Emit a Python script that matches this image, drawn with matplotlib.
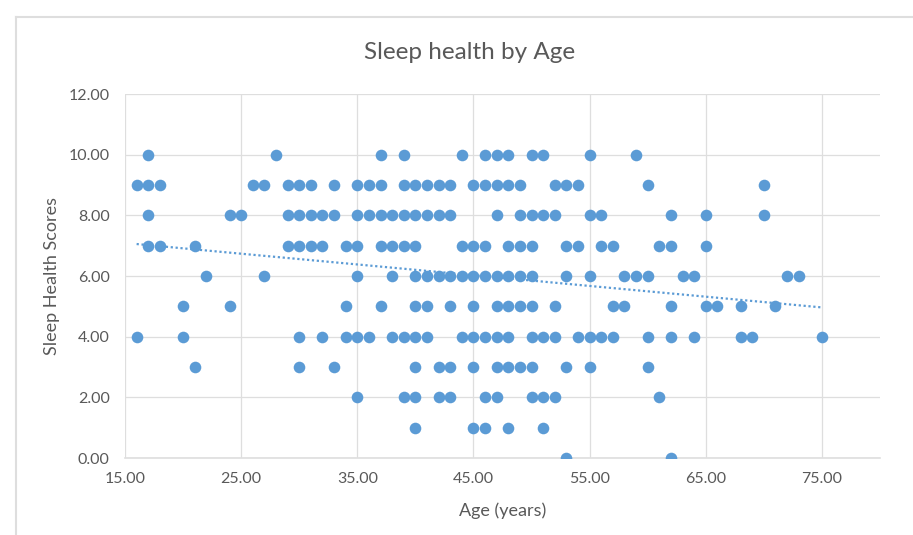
import matplotlib.pyplot as plt
import numpy as np
from matplotlib.lines import Line2D

# ==========================================
# 1. Data (age in years per sleep health score)
# ==========================================
score_levels = [10, 9, 8, 7, 6, 5, 4, 3, 2, 1, 0]

ages_10 = [17, 28, 37, 39, 44, 46, 47, 48, 50, 51, 55, 59]
ages_9 = [16, 17, 18, 26, 27, 29, 30, 31, 33, 35, 36, 37, 39, 40, 41, 42, 43,
          45, 46, 47, 48, 49, 52, 53, 54, 60, 70]
ages_8 = [17, 24, 25, 29, 30, 31, 32, 33, 35, 36, 37, 38, 39, 40, 41, 42, 43,
          47, 49, 50, 51, 52, 55, 56, 62, 65, 70]
ages_7 = [17, 18, 21, 29, 30, 31, 32, 34, 35, 37, 38, 39, 40, 44, 45, 46, 48,
          49, 50, 53, 54, 56, 57, 61, 62, 65]
ages_6 = [22, 27, 35, 38, 40, 41, 42, 43, 44, 45, 46, 47, 48, 49, 50, 53, 55,
          58, 59, 60, 63, 64, 72, 73]
ages_5 = [20, 24, 34, 37, 40, 41, 43, 45, 47, 48, 49, 50, 52, 57, 58, 62, 65,
          66, 68, 71]
ages_4 = [16, 20, 30, 32, 34, 35, 36, 38, 39, 40, 41, 44, 45, 46, 47, 48, 50,
          51, 52, 54, 55, 56, 57, 60, 62, 64, 68, 69, 75]
ages_3 = [21, 30, 33, 40, 42, 43, 45, 47, 48, 49, 50, 53, 55, 60]
ages_2 = [35, 39, 40, 42, 43, 46, 47, 50, 51, 52, 61]
ages_1 = [40, 45, 46, 48, 51]
ages_0 = [53, 62]

age_groups = [ages_10, ages_9, ages_8, ages_7, ages_6, ages_5, ages_4,
              ages_3, ages_2, ages_1, ages_0]

ages = np.concatenate([np.array(a, dtype=float) for a in age_groups])
scores = np.concatenate([np.full(len(a), s, dtype=float)
                         for a, s in zip(age_groups, score_levels)])

x_ticks = [15, 25, 35, 45, 55, 65, 75]
y_ticks = [0, 2, 4, 6, 8, 10, 12]

# ==========================================
# 2. Style
# ==========================================
plt.rcParams['font.family'] = ['Lato', 'DejaVu Sans']
text_grey = '#595959'
grid_grey = '#DEDEDE'
dot_blue = '#5B9BD5'

fig = plt.figure(figsize=(9.13, 5.35), dpi=100)
ax = fig.add_axes([125 / 913, 1 - 458 / 535, (880 - 125) / 913, (458 - 94) / 535])

# scatter points
ax.scatter(ages, scores, s=70, color=dot_blue, linewidths=0, zorder=3)

# linear trendline (least squares, like Excel)
slope, intercept = np.polyfit(ages, scores, 1)
trend_x = np.array([ages.min(), ages.max()])
ax.plot(trend_x, slope * trend_x + intercept, color=dot_blue,
        linestyle=(0, (1, 1.2)), linewidth=1.6, zorder=2)

# axes
ax.set_xlim(15, 80)
ax.set_ylim(0, 12)
ax.set_xticks(x_ticks)
ax.set_yticks(y_ticks)
ax.set_xticklabels([f'{v:.2f}' for v in x_ticks])
ax.set_yticklabels([f'{v:.2f}' for v in y_ticks])
ax.tick_params(axis='both', length=0, labelsize=11.5, colors=text_grey)
ax.tick_params(axis='x', pad=10)
ax.tick_params(axis='y', pad=11)

ax.grid(True, color=grid_grey, linewidth=0.9, zorder=0)
ax.set_axisbelow(True)
for side in ['top', 'right', 'left']:
    ax.spines[side].set_visible(False)
ax.spines['bottom'].set_color(grid_grey)
ax.spines['bottom'].set_linewidth(1.2)

ax.set_xlabel('Age (years)', fontsize=13, color=text_grey, labelpad=12)
ax.set_ylabel('Sleep Health Scores', fontsize=13, color=text_grey, labelpad=6)

fig.text(470 / 913, 1 - 52 / 535, 'Sleep health by Age', fontsize=17.5,
         color=text_grey, ha='center', va='center')

# chart frame (only the left and top edges are visible in the crop)
fig.add_artist(Line2D([16 / 913, 16 / 913], [0, 1 - 17 / 535],
                      transform=fig.transFigure, color=grid_grey, linewidth=1.5))
fig.add_artist(Line2D([16 / 913, 1], [1 - 17 / 535, 1 - 17 / 535],
                      transform=fig.transFigure, color=grid_grey, linewidth=1.5))

fig.savefig('out.png', dpi=100)
